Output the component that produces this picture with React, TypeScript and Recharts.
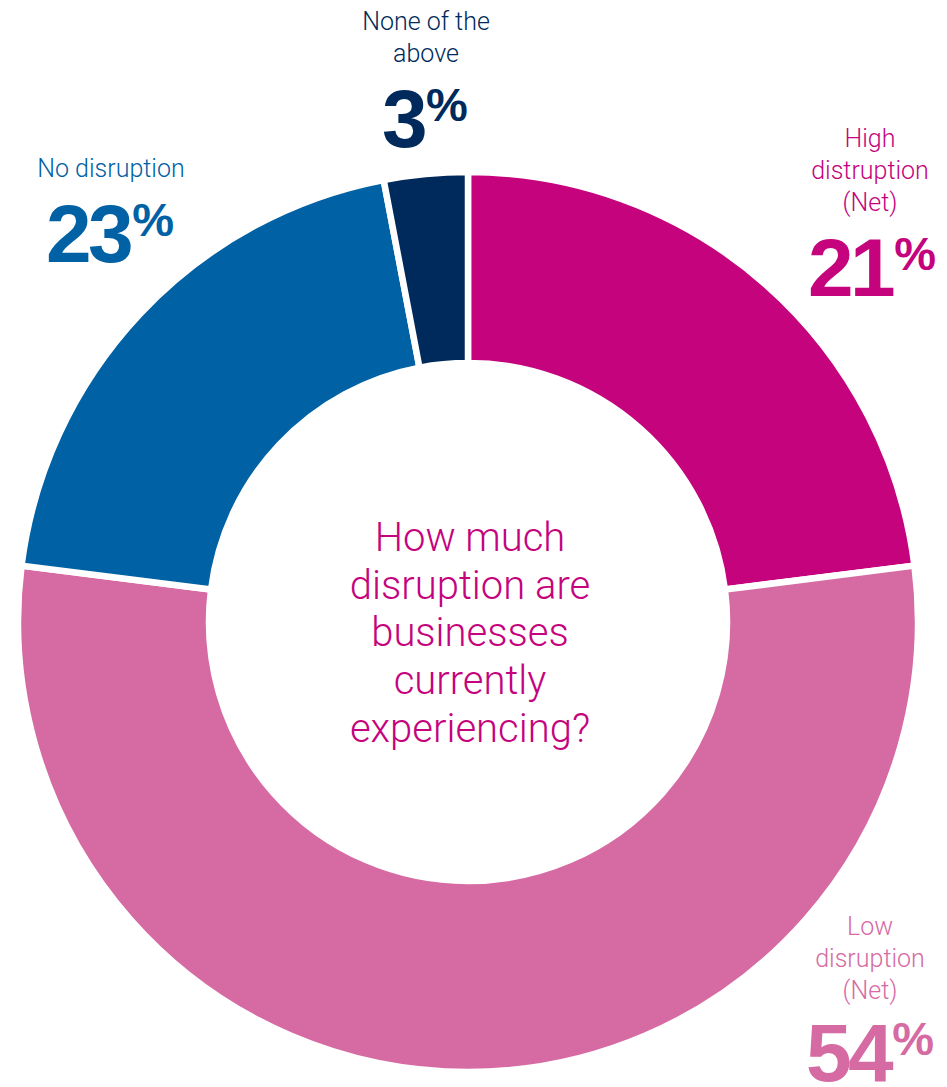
import { PieChart, Pie, Cell } from "recharts";

// slice order: clockwise from 12 o'clock
const categories = ["High distruption (Net)", "Low disruption (Net)", "No disruption", "None of the above"];
// slice sizes as drawn in the picture
const sliceValues = [23, 54, 20, 3];
// share printed next to each slice
const printedShares = ["21", "54", "23", "3"];
const labelLines = [
  ["High", "distruption", "(Net)"],
  ["Low", "disruption", "(Net)"],
  ["No disruption"],
  ["None of the", "above"],
];
const question = ["How much", "disruption are", "businesses", "currently", "experiencing?"];

const colors = ["#C4037D", "#D66BA3", "#0061A5", "#002A5B"];

const data = categories.map((name, i) => ({ name, value: sliceValues[i] }));

// label placement, relative to the pie centre
const labelLayout = [
  { tx: 402, ty: [-475, -443, -411], px: 340, py: -326 },
  { tx: 402, ty: [313, 345, 377], px: 338, py: 459 },
  { tx: -357, ty: [-445], px: -422, py: -360 },
  { tx: -42, ty: [-592, -560], px: -86, py: -475 },
];

const lightFont = "Roboto, 'Liberation Sans', Arial, sans-serif";
const boldFont = "'Liberation Sans', Arial, sans-serif";

const renderLabel = (props: any) => {
  const { cx, cy, index } = props;
  const l = labelLayout[index];
  const color = colors[index];
  return (
    <g key={`lbl-${index}`}>
      {labelLines[index].map((line, j) => (
        <text
          key={j}
          x={cx + l.tx}
          y={cy + l.ty[j]}
          textAnchor="middle"
          fill={color}
          fontFamily={lightFont}
          fontWeight={300}
          fontSize={25}
        >
          {line}
        </text>
      ))}
      <text x={cx + l.px} y={cy + l.py} fill={color} fontFamily={boldFont} fontWeight={700}>
        <tspan fontSize={82} letterSpacing={-3.5}>
          {printedShares[index]}
        </tspan>
        <tspan fontSize={47} dy={-26} dx={2}>
          %
        </tspan>
      </text>
      {index === 0 &&
        question.map((line, j) => (
          <text
            key={`q-${j}`}
            x={cx + 2}
            y={cy - 71 + j * 47.7}
            textAnchor="middle"
            fill="#C4037D"
            fontFamily={lightFont}
            fontWeight={300}
            fontSize={40}
          >
            {line}
          </text>
        ))}
    </g>
  );
};

const App = () => {
  return (
    <div style={{ position: "absolute", left: 0, top: 0, background: "#fff" }}>
      <PieChart width={947} height={1087} margin={{ top: 0, right: 0, bottom: 0, left: 0 }}>
        <Pie
          data={data}
          dataKey="value"
          nameKey="name"
          cx={468}
          cy={622}
          innerRadius={259}
          outerRadius={450}
          startAngle={90}
          endAngle={-270}
          stroke="#fff"
          strokeWidth={6.5}
          label={renderLabel}
          labelLine={false}
          isAnimationActive={false}
        >
          {data.map((d, i) => (
            <Cell key={d.name} fill={colors[i]} />
          ))}
        </Pie>
      </PieChart>
    </div>
  );
};

export default App;
